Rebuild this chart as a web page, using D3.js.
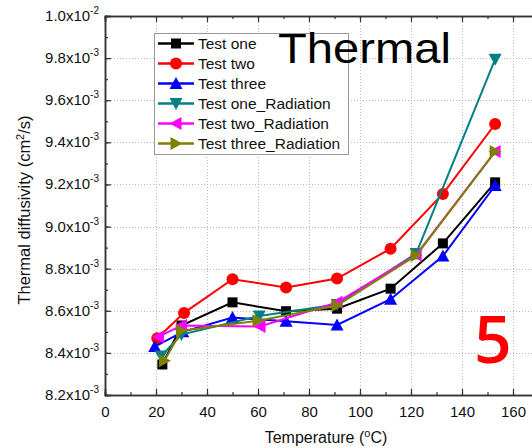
<!DOCTYPE html>
<html>
<head>
<meta charset="utf-8">
<script src="https://cdn.jsdelivr.net/npm/d3@7"></script>
<style>
  html, body { margin: 0; padding: 0; background: #fff; }
  svg { display: block; font-family: Arial, "Liberation Sans", sans-serif; }
</style>
</head>
<body>
<svg id="chart" width="532" height="448"></svg>
<script>
// Temperatures (°C) and thermal diffusivity (cm²/s) for each run
const testOneT = [22.5, 30, 50, 71, 91, 112, 132.5, 153];
const testOneD = [8.345e-3, 8.53e-3, 8.64e-3, 8.598e-3, 8.61e-3, 8.705e-3, 8.92e-3, 9.21e-3];

const testTwoT = [20.5, 31, 50, 71, 91, 112, 132.5, 153];
const testTwoD = [8.47e-3, 8.59e-3, 8.75e-3, 8.711e-3, 8.753e-3, 8.895e-3, 9.155e-3, 9.487e-3];

const testThreeT = [19.5, 30.5, 50, 71, 91, 112, 132.5, 153];
const testThreeD = [8.43e-3, 8.50e-3, 8.568e-3, 8.55e-3, 8.533e-3, 8.655e-3, 8.86e-3, 9.195e-3];

const testOneRadT = [22, 30, 60.5, 91, 122, 153];
const testOneRadD = [8.385e-3, 8.487e-3, 8.575e-3, 8.63e-3, 8.872e-3, 9.795e-3];

const testTwoRadT = [21, 30, 60.8, 91, 122, 153];
const testTwoRadD = [8.477e-3, 8.53e-3, 8.525e-3, 8.64e-3, 8.865e-3, 9.356e-3];

const testThreeRadT = [23.3, 30, 60, 91, 122, 153];
const testThreeRadD = [8.363e-3, 8.505e-3, 8.553e-3, 8.625e-3, 8.862e-3, 9.356e-3];

const seriesNames = ["Test one", "Test two", "Test three",
                     "Test one_Radiation", "Test two_Radiation", "Test three_Radiation"];
const seriesColors = ["#000000", "#ff0000", "#0000ff", "#008080", "#ff00ff", "#808000"];
const seriesMarkers = ["square", "circle", "up", "down", "left", "right"];

const xTicks = [0, 20, 40, 60, 80, 100, 120, 140, 160];
const yTicks = [8.2e-3, 8.4e-3, 8.6e-3, 8.8e-3, 9.0e-3, 9.2e-3, 9.4e-3, 9.6e-3, 9.8e-3, 1.0e-2];

const series = [
  [testOneT, testOneD], [testTwoT, testTwoD], [testThreeT, testThreeD],
  [testOneRadT, testOneRadD], [testTwoRadT, testTwoRadD], [testThreeRadT, testThreeRadD]
].map(([t, d], i) => ({
  name: seriesNames[i], color: seriesColors[i], marker: seriesMarkers[i],
  points: t.map((v, j) => ({ t: v, d: d[j] }))
}));

const svg = d3.select("#chart");
const plotLeft = 105, plotRight = 538.5, plotTop = 16, plotBottom = 395;

const x = d3.scaleLinear().domain([0, 170]).range([plotLeft, plotRight]);
const y = d3.scaleLinear().domain([8.2e-3, 1.0e-2]).range([plotBottom, plotTop]);

// dotted grid
const grid = svg.append("g").attr("stroke", "#b8b8b8").attr("stroke-width", 1)
  .attr("stroke-dasharray", "1,2");
xTicks.filter(v => v > 0).forEach(v => {
  grid.append("line").attr("x1", x(v) + 0.5).attr("x2", x(v) + 0.5)
    .attr("y1", plotTop).attr("y2", plotBottom);
});
yTicks.filter(v => v > 8.2e-3 && v < 1.0e-2).forEach(v => {
  grid.append("line").attr("y1", Math.round(y(v)) + 0.5).attr("y2", Math.round(y(v)) + 0.5)
    .attr("x1", plotLeft).attr("x2", plotRight);
});

// axes with inward ticks (mirrored on top)
const xMinor = d3.range(0, 171, 10);
const yMinor = d3.range(0, 19).map(i => 8.2e-3 + i * 1e-4);

const axisColor = "#333";
const bottomAxis = svg.append("g").attr("transform", `translate(0,${plotBottom})`)
  .call(d3.axisBottom(x).tickValues(xMinor).tickSize(-3).tickFormat(""));
const bottomMajor = svg.append("g").attr("transform", `translate(0,${plotBottom})`)
  .call(d3.axisBottom(x).tickValues(xTicks).tickSize(-6).tickPadding(11).tickFormat(d3.format("d")));
const topAxis = svg.append("g").attr("transform", `translate(0,${plotTop})`)
  .call(d3.axisTop(x).tickValues(xMinor).tickSize(-3).tickFormat(""));
const topMajor = svg.append("g").attr("transform", `translate(0,${plotTop})`)
  .call(d3.axisTop(x).tickValues(xTicks).tickSize(-6).tickFormat(""));
const leftAxis = svg.append("g").attr("transform", `translate(${plotLeft},0)`)
  .call(d3.axisLeft(y).tickValues(yMinor).tickSize(-3).tickFormat(""));
const leftMajor = svg.append("g").attr("transform", `translate(${plotLeft},0)`)
  .call(d3.axisLeft(y).tickValues(yTicks).tickSize(-6).tickFormat(""));

[bottomAxis, bottomMajor, topAxis, topMajor, leftAxis, leftMajor].forEach(g => {
  g.selectAll("path.domain").attr("stroke", axisColor).attr("stroke-width", 1.5);
  g.selectAll(".tick line").attr("stroke", axisColor).attr("stroke-width", 1.2);
});
bottomMajor.selectAll(".tick text").attr("font-size", 15).attr("fill", "#111")
  .attr("font-family", "Arial, 'Liberation Sans', sans-serif");

// y tick labels in "m.mx10^e" form
yTicks.forEach(v => {
  const e = Math.floor(Math.log10(v) + 1e-9);
  const m = (v / Math.pow(10, e)).toFixed(1);
  const t = svg.append("text").attr("x", 99).attr("y", y(v) + 5)
    .attr("text-anchor", "end").attr("font-size", 15).attr("fill", "#111");
  t.append("tspan").text(`${m}x10`);
  t.append("tspan").attr("dy", -7).attr("font-size", 10).text(String(e));
});

// axis titles
const xt = svg.append("text").attr("x", 326).attr("y", 443).attr("text-anchor", "middle")
  .attr("font-size", 16).attr("fill", "#111");
xt.append("tspan").text("Temperature (");
xt.append("tspan").attr("dy", -6).attr("font-size", 11).text("o");
xt.append("tspan").attr("dy", 6).text("C)");

const yt = svg.append("text").attr("transform", "translate(30,210) rotate(-90)")
  .attr("text-anchor", "middle").attr("font-size", 16.5).attr("fill", "#111");
yt.append("tspan").text("Thermal diffusivity (cm");
yt.append("tspan").attr("dy", -6).attr("font-size", 11).text("2");
yt.append("tspan").attr("dy", 6).text("/s)");

// marker shapes
function markerPath(kind, s) {
  const h = s / 2;
  switch (kind) {
    case "up": return `M0,${-h - 1}L${h + 1},${h}L${-h - 1},${h}Z`;
    case "down": return `M0,${h + 1}L${h + 1},${-h}L${-h - 1},${-h}Z`;
    case "left": return `M${-h - 1},0L${h},${-h - 1}L${h},${h + 1}Z`;
    case "right": return `M${h + 1},0L${-h},${-h - 1}L${-h},${h + 1}Z`;
  }
}
function drawMarker(g, kind, color, cx, cy) {
  if (kind === "square") {
    g.append("rect").attr("x", cx - 5).attr("y", cy - 5).attr("width", 10).attr("height", 10)
      .attr("fill", color);
  } else if (kind === "circle") {
    g.append("circle").attr("cx", cx).attr("cy", cy).attr("r", 6).attr("fill", color);
  } else {
    g.append("path").attr("transform", `translate(${cx},${cy})`)
      .attr("d", markerPath(kind, 11)).attr("fill", color);
  }
}

// series lines and markers
const line = d3.line().x(p => x(p.t)).y(p => y(p.d));
const plot = svg.append("g");
series.forEach(s => {
  const g = plot.append("g");
  g.append("path").datum(s.points).attr("d", line).attr("fill", "none")
    .attr("stroke", s.color).attr("stroke-width", 2);
  s.points.forEach(p => drawMarker(g, s.marker, s.color, x(p.t), y(p.d)));
});

// legend
const lg = svg.append("g");
lg.append("rect").attr("x", 154.5).attr("y", 33.5).attr("width", 194).attr("height", 121)
  .attr("fill", "#fff").attr("stroke", "#999").attr("stroke-width", 1);
series.forEach((s, i) => {
  const cy = 43.5 + i * 20;
  lg.append("line").attr("x1", 158).attr("x2", 194).attr("y1", cy).attr("y2", cy)
    .attr("stroke", s.color).attr("stroke-width", 2.5);
  drawMarker(lg, s.marker, s.color, 176, cy);
  lg.append("text").attr("x", 198).attr("y", cy + 5.5).attr("font-size", 15.5)
    .attr("fill", "#111").text(s.name);
});

// annotations
svg.append("text").attr("x", 278).attr("y", 63).attr("font-size", 43)
  .attr("textLength", 173).attr("lengthAdjust", "spacingAndGlyphs")
  .attr("fill", "#000").text("Thermal");
svg.append("text").attr("x", 474).attr("y", 363).attr("font-size", 66)
  .attr("font-family", "'Open Sans', Arial, sans-serif").attr("font-weight", 600)
  .attr("fill", "#ff0000").text("5");
</script>
</body>
</html>
